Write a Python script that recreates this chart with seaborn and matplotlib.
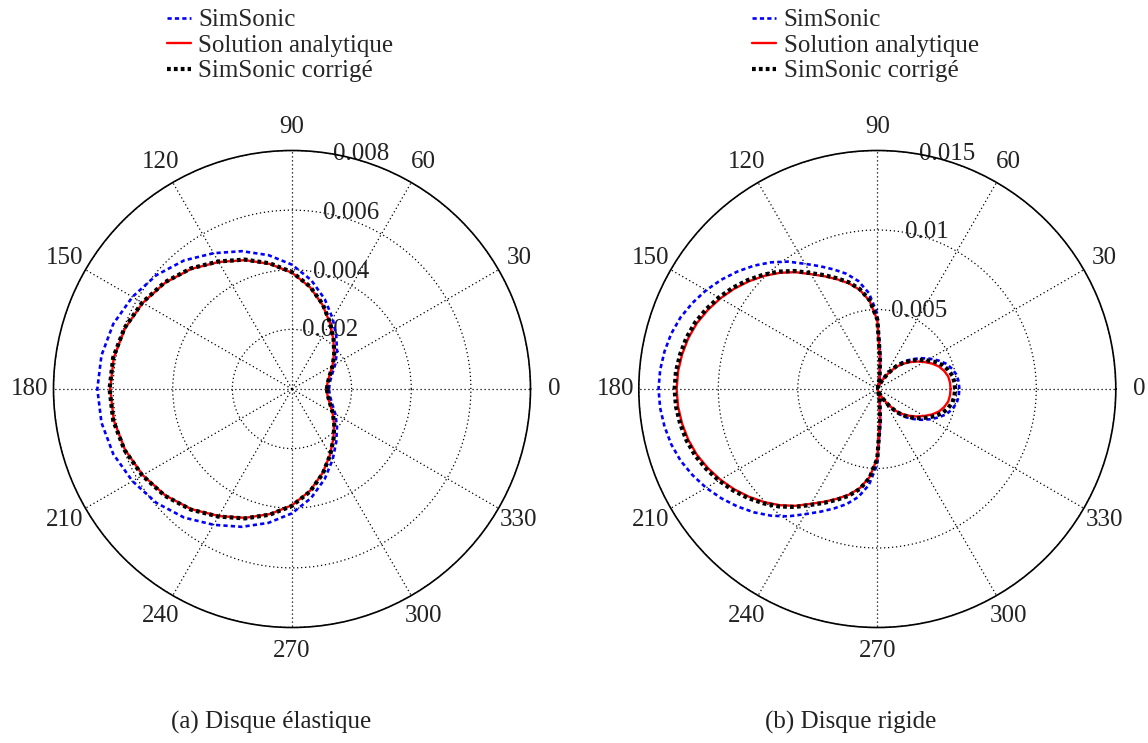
import numpy as np
import pandas as pd
import matplotlib
matplotlib.use("Agg")
import matplotlib.pyplot as plt
import seaborn as sns

# ---------------- data ----------------
series_names = ["SimSonic", "Solution analytique", "SimSonic corrigé"]
captions = ["(a) Disque élastique", "(b) Disque rigide"]

angle_ticks = [0, 30, 60, 90, 120, 150, 180, 210, 240, 270, 300, 330]
angle_labels = ["0", "30", "60", "90", "120", "150", "180", "210", "240", "270", "300", "330"]

rticks_a = [0.002, 0.004, 0.006, 0.008]
rtick_labels_a = ["0.002", "0.004", "0.006", "0.008"]
rticks_b = [0.005, 0.01, 0.015]
rtick_labels_b = ["0.005", "0.01", "0.015"]

# (a) elastic disc, angles in degrees every 10
theta_a = list(range(0, 361, 10))
simsonic_a = [0.00124, 0.00129, 0.00143, 0.00168, 0.00197, 0.00231, 0.00273, 0.00321, 0.00371, 0.00417,
              0.00456, 0.00492, 0.00526, 0.00563, 0.00594, 0.00618, 0.00638, 0.00649, 0.00653,
              0.00649, 0.00638, 0.00618, 0.00594, 0.00563, 0.00526, 0.00492, 0.00456, 0.00417,
              0.00371, 0.00321, 0.00273, 0.00231, 0.00197, 0.00168, 0.00143, 0.00129, 0.00124]
analytique_a = [0.00116, 0.00121, 0.00134, 0.00157, 0.00184, 0.00216, 0.00255, 0.00300, 0.00347, 0.00390,
                0.00426, 0.00460, 0.00492, 0.00526, 0.00555, 0.00578, 0.00596, 0.00607, 0.00610,
                0.00607, 0.00596, 0.00578, 0.00555, 0.00526, 0.00492, 0.00460, 0.00426, 0.00390,
                0.00347, 0.00300, 0.00255, 0.00216, 0.00184, 0.00157, 0.00134, 0.00121, 0.00116]
corrige_a = [0.00117, 0.00122, 0.00135, 0.00158, 0.00185, 0.00217, 0.00256, 0.00302, 0.00349, 0.00392,
             0.00428, 0.00462, 0.00494, 0.00528, 0.00557, 0.00580, 0.00598, 0.00609, 0.00612,
             0.00609, 0.00598, 0.00580, 0.00557, 0.00528, 0.00494, 0.00462, 0.00428, 0.00392,
             0.00349, 0.00302, 0.00256, 0.00217, 0.00185, 0.00158, 0.00135, 0.00122, 0.00117]

# (b) rigid disc, angles in degrees every 5
theta_b = list(range(0, 361, 5))
simsonic_b = [0.00516, 0.00514, 0.00507, 0.00488, 0.00463, 0.00424, 0.00381, 0.00338, 0.00293, 0.00249,
              0.00199, 0.00133, 0.00075, 0.00028, 0.00012, 0.00045, 0.00091, 0.00210, 0.00473, 0.00606,
              0.00690, 0.00750, 0.00800, 0.00852, 0.00909, 0.00978, 0.01040, 0.01097, 0.01149, 0.01198,
              0.01243, 0.01282, 0.01317, 0.01342, 0.01359, 0.01371, 0.01376,
              0.01371, 0.01359, 0.01342, 0.01317, 0.01282, 0.01243, 0.01198, 0.01149, 0.01097, 0.01040,
              0.00978, 0.00909, 0.00852, 0.00800, 0.00750, 0.00690, 0.00606, 0.00473, 0.00210, 0.00091,
              0.00045, 0.00012, 0.00028, 0.00075, 0.00133, 0.00199, 0.00249, 0.00293, 0.00338, 0.00381,
              0.00424, 0.00463, 0.00488, 0.00507, 0.00514, 0.00516]
analytique_b = [0.00461, 0.00459, 0.00453, 0.00436, 0.00413, 0.00379, 0.00340, 0.00302, 0.00262, 0.00222,
                0.00178, 0.00119, 0.00067, 0.00025, 0.00010, 0.00042, 0.00084, 0.00193, 0.00434, 0.00556,
                0.00633, 0.00688, 0.00734, 0.00782, 0.00834, 0.00897, 0.00954, 0.01006, 0.01054, 0.01099,
                0.01140, 0.01176, 0.01208, 0.01231, 0.01247, 0.01258, 0.01262,
                0.01258, 0.01247, 0.01231, 0.01208, 0.01176, 0.01140, 0.01099, 0.01054, 0.01006, 0.00954,
                0.00897, 0.00834, 0.00782, 0.00734, 0.00688, 0.00633, 0.00556, 0.00434, 0.00193, 0.00084,
                0.00042, 0.00010, 0.00025, 0.00067, 0.00119, 0.00178, 0.00222, 0.00262, 0.00302, 0.00340,
                0.00379, 0.00413, 0.00436, 0.00453, 0.00459, 0.00461]
corrige_b = [0.00489, 0.00487, 0.00480, 0.00462, 0.00438, 0.00402, 0.00360, 0.00320, 0.00278, 0.00235,
             0.00189, 0.00126, 0.00071, 0.00027, 0.00011, 0.00043, 0.00086, 0.00197, 0.00438, 0.00562,
             0.00639, 0.00695, 0.00741, 0.00790, 0.00842, 0.00906, 0.00964, 0.01016, 0.01065, 0.01110,
             0.01151, 0.01188, 0.01220, 0.01243, 0.01259, 0.01271, 0.01275,
             0.01271, 0.01259, 0.01243, 0.01220, 0.01188, 0.01151, 0.01110, 0.01065, 0.01016, 0.00964,
             0.00906, 0.00842, 0.00790, 0.00741, 0.00695, 0.00639, 0.00562, 0.00438, 0.00197, 0.00086,
             0.00043, 0.00011, 0.00027, 0.00071, 0.00126, 0.00189, 0.00235, 0.00278, 0.00320, 0.00360,
             0.00402, 0.00438, 0.00462, 0.00480, 0.00487, 0.00489]

# ---------------- styling ----------------
sns.set_theme(style="white")
plt.rcParams["font.family"] = ["Liberation Serif", "DejaVu Serif"]
FS = 18

line_styles = {
    "SimSonic": dict(color="#0000ff", linewidth=1.9, linestyle=(0, (1.6, 1.2)), zorder=3),
    "Solution analytique": dict(color="#ff0000", linewidth=1.7, linestyle="-", zorder=4),
    "SimSonic corrigé": dict(color="black", linewidth=3.0, linestyle=(0, (0.9, 0.75)), zorder=5),
}

W, H = 1148, 743
fig = plt.figure(figsize=(W / 100, H / 100), dpi=100)
fig.patch.set_facecolor("white")
R = 238.5


def make_ax(cx, cy):
    return fig.add_axes([(cx - R) / W, (H - cy - R) / H, 2 * R / W, 2 * R / H], projection="polar")


panels = [
    dict(center=(292, 389), theta=theta_a, series=[simsonic_a, analytique_a, corrige_a],
         rticks=rticks_a, rlabels=rtick_labels_a),
    dict(center=(877.3, 389), theta=theta_b, series=[simsonic_b, analytique_b, corrige_b],
         rticks=rticks_b, rlabels=rtick_labels_b),
]

for i, p in enumerate(panels):
    ax = make_ax(*p["center"])
    th = np.radians(p["theta"])
    for name, vals in zip(series_names, p["series"]):
        df = pd.DataFrame({"theta": th, "r": vals})
        sns.lineplot(data=df, x="theta", y="r", ax=ax, sort=False, estimator=None,
                     label=name, **line_styles[name])
    ax.set_xlabel("")
    ax.set_ylabel("")
    ax.set_ylim(0, p["rticks"][-1])
    ax.set_yticks(p["rticks"])
    ax.set_yticklabels(p["rlabels"])
    ax.set_rlabel_position(80)
    ax.set_xticks(np.radians(angle_ticks))
    ax.set_xticklabels(angle_labels)
    ax.tick_params(axis="x", pad=4, labelsize=FS, colors="#222222")
    ax.tick_params(axis="y", labelsize=FS, colors="#222222")
    for lab in ax.get_xticklabels():
        lab.set_verticalalignment("center")
    ax.grid(True, color="black", linestyle=(0, (1, 2.2)), linewidth=0.9)
    ax.spines["polar"].set_color("black")
    ax.spines["polar"].set_linewidth(1.2)
    ax.set_facecolor("white")
    for lab in ax.get_yticklabels():
        lab.set_horizontalalignment("left")
        lab.set_verticalalignment("center")
    handles, labels = ax.get_legend_handles_labels()
    if ax.get_legend() is not None:
        ax.get_legend().remove()
    lx = (p["center"][0] - 125) / W
    fig.legend(handles, labels, loc="upper left", bbox_to_anchor=(lx, 1 - 9 / H),
               frameon=False, fontsize=FS, handlelength=0.95, handletextpad=0.3,
               labelspacing=0.12, borderpad=0, borderaxespad=0)
    fig.text([271, 851][i] / W, 1 - 722 / H, captions[i], ha="center", va="center",
             fontsize=FS, color="#222222")

fig.savefig("out.png", dpi=100, facecolor="white")
